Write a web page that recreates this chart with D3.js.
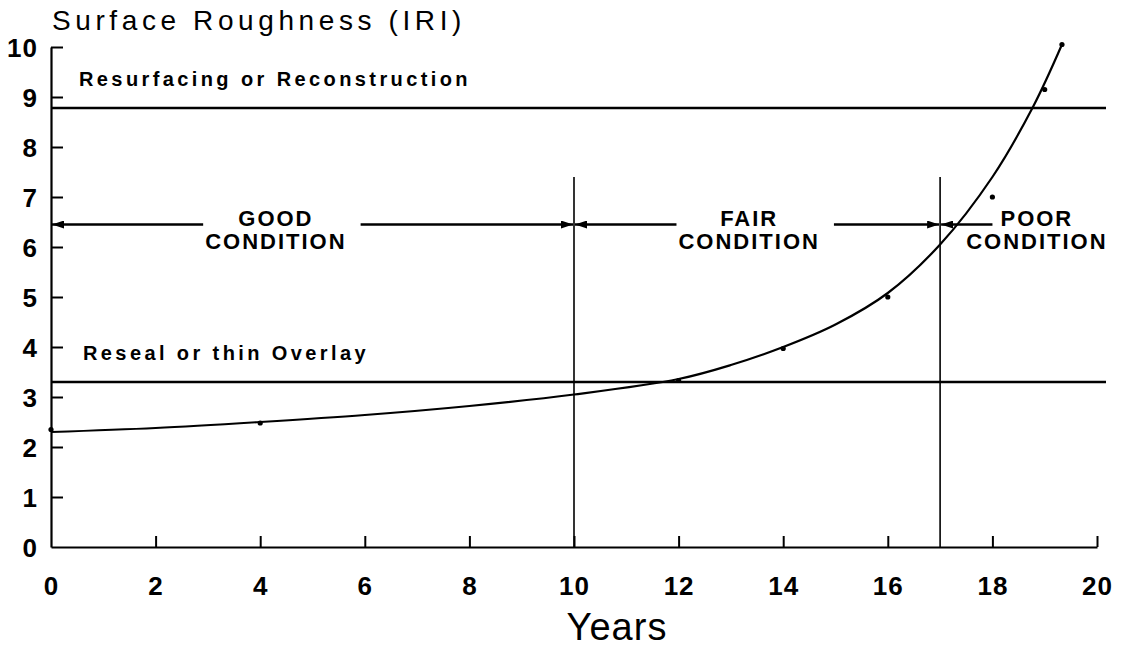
<!DOCTYPE html>
<html>
<head>
<meta charset="utf-8">
<script src="https://cdn.jsdelivr.net/npm/d3@7"></script>
<style>
  body { margin: 0; background: #fff; }
  text { font-family: 'Liberation Sans', Arial, sans-serif; fill: #000; }
  .tick-label { font-size: 26px; font-weight: bold; letter-spacing: 1px; }
  .note { font-size: 20px; font-weight: bold; letter-spacing: 3.4px; }
  .cond { font-size: 22px; font-weight: bold; letter-spacing: 2px; }
</style>
</head>
<body>
<svg width="1121" height="652"></svg>
<script>
// fitted deterioration curve
var curveYears = [0, 2, 4, 6, 8, 10, 12, 13, 14, 15, 16, 17, 18, 18.78, 19.33];
var curveIRI = [2.3, 2.38, 2.5, 2.64, 2.82, 3.05, 3.36, 3.64, 4.0, 4.45, 5.08, 6.05, 7.4, 8.81, 10.05];

// observed points
var obsYears = [0, 4, 12, 14, 16, 18, 19, 19.33];
var obsIRI = [2.35, 2.48, 3.33, 3.97, 5.0, 7.0, 9.15, 10.05];

// treatment thresholds
var thresholdNames = ['Resurfacing or Reconstruction', 'Reseal or thin Overlay'];
var thresholdIRI = [8.78, 3.3];

// condition bands
var condNames = ['GOOD', 'FAIR', 'POOR'];
var condStart = [0, 10, 17];
var condEnd = [10, 17, 20];
var condLabelAt = [4.3, 13.35, 18.85];
var condArrowIRI = 6.45;
var dividerYears = [10, 17];
var dividerTop = 7.4;

var xTicks = [0, 2, 4, 6, 8, 10, 12, 14, 16, 18, 20];
var yTicks = [0, 1, 2, 3, 4, 5, 6, 7, 8, 9, 10];

var svg = d3.select('svg');
var x = d3.scaleLinear().domain([0, 20]).range([51, 1097]);
var y = d3.scaleLinear().domain([0, 10]).range([547, 47]);

var defs = svg.append('defs');
defs.append('marker')
  .attr('id', 'head')
  .attr('viewBox', '0 0 12 8')
  .attr('refX', 12)
  .attr('refY', 4)
  .attr('markerWidth', 12)
  .attr('markerHeight', 8)
  .attr('markerUnits', 'userSpaceOnUse')
  .attr('orient', 'auto-start-reverse')
  .append('path')
  .attr('d', 'M0,0 L12,4 L0,8 Z')
  .attr('fill', '#000');

// axes
var gx = svg.append('g')
  .attr('transform', 'translate(0,' + y(0) + ')')
  .call(d3.axisBottom(x).tickValues(xTicks).tickSize(-11).tickPadding(30).tickSizeOuter(0));
var gy = svg.append('g')
  .attr('transform', 'translate(' + x(0) + ',0)')
  .call(d3.axisLeft(y).tickValues(yTicks).tickSize(-12).tickPadding(13).tickSizeOuter(0));

[gx, gy].forEach(function(g) {
  g.select('.domain').attr('stroke', '#000').attr('stroke-width', 2.2);
  g.selectAll('.tick line').attr('stroke', '#000').attr('stroke-width', 2);
  g.selectAll('.tick text').attr('class', 'tick-label').attr('font-size', null).attr('font-family', null);
});
gx.selectAll('.tick').filter(function(d) { return d === 0; }).select('line').remove();
gy.selectAll('.tick').filter(function(d) { return d === 0; }).select('line').remove();
gy.selectAll('.tick text').attr('dy', '0.36em');

// thresholds
thresholdIRI.forEach(function(v, i) {
  svg.append('line')
    .attr('x1', x(0)).attr('x2', x(20) + 9)
    .attr('y1', y(v)).attr('y2', y(v))
    .attr('stroke', '#000').attr('stroke-width', 2.6);
  svg.append('text')
    .attr('class', 'note')
    .attr('x', x(0) + 28 + i * 4)
    .attr('y', y(v) - 22)
    .text(thresholdNames[i]);
});

// condition dividers
dividerYears.forEach(function(d) {
  svg.append('line')
    .attr('x1', x(d)).attr('x2', x(d))
    .attr('y1', y(dividerTop)).attr('y2', y(0))
    .attr('stroke', '#000').attr('stroke-width', 1.6);
});

// condition labels with arrows
condNames.forEach(function(name, i) {
  var a = x(condStart[i]), b = x(condEnd[i]);
  var cx = x(condLabelAt[i]);
  var yy = y(condArrowIRI);
  var t1 = svg.append('text').attr('class', 'cond')
    .attr('x', cx).attr('y', yy + 1).attr('text-anchor', 'middle').text(name);
  var t2 = svg.append('text').attr('class', 'cond')
    .attr('x', cx).attr('y', yy + 24).attr('text-anchor', 'middle').text('CONDITION');
  var w = t2.node().getComputedTextLength();
  var wTop = t1.node().getComputedTextLength();
  var leftEnd = i === 2 ? cx - wTop / 2 - 8 : cx - w / 2 - 2;
  svg.append('line')
    .attr('x1', leftEnd).attr('x2', a + 1)
    .attr('y1', yy).attr('y2', yy)
    .attr('stroke', '#000').attr('stroke-width', 2.4)
    .attr('marker-end', 'url(#head)');
  if (i < 2) {
    svg.append('line')
      .attr('x1', cx + w / 2 + 14).attr('x2', b - 1)
      .attr('y1', yy).attr('y2', yy)
      .attr('stroke', '#000').attr('stroke-width', 2.4)
      .attr('marker-end', 'url(#head)');
  }
});

// curve
var pts = curveYears.map(function(d, i) { return [d, curveIRI[i]]; });
var line = d3.line()
  .curve(d3.curveCatmullRom.alpha(0.5))
  .x(function(d) { return x(d[0]); })
  .y(function(d) { return y(d[1]); });
svg.append('path')
  .datum(pts)
  .attr('d', line)
  .attr('fill', 'none')
  .attr('stroke', '#000')
  .attr('stroke-width', 2.2);

svg.selectAll('.obs')
  .data(obsYears)
  .enter()
  .append('circle')
  .attr('class', 'obs')
  .attr('cx', function(d) { return x(d); })
  .attr('cy', function(d, i) { return y(obsIRI[i]); })
  .attr('r', 2.6)
  .attr('fill', '#000');

// titles
svg.append('text')
  .attr('x', 52).attr('y', 30)
  .attr('font-size', 28)
  .attr('letter-spacing', 4.6)
  .text('Surface Roughness (IRI)');
svg.append('text')
  .attr('x', 617).attr('y', 640)
  .attr('text-anchor', 'middle')
  .attr('font-size', 38)
  .attr('letter-spacing', 1)
  .text('Years');
</script>
</body>
</html>
